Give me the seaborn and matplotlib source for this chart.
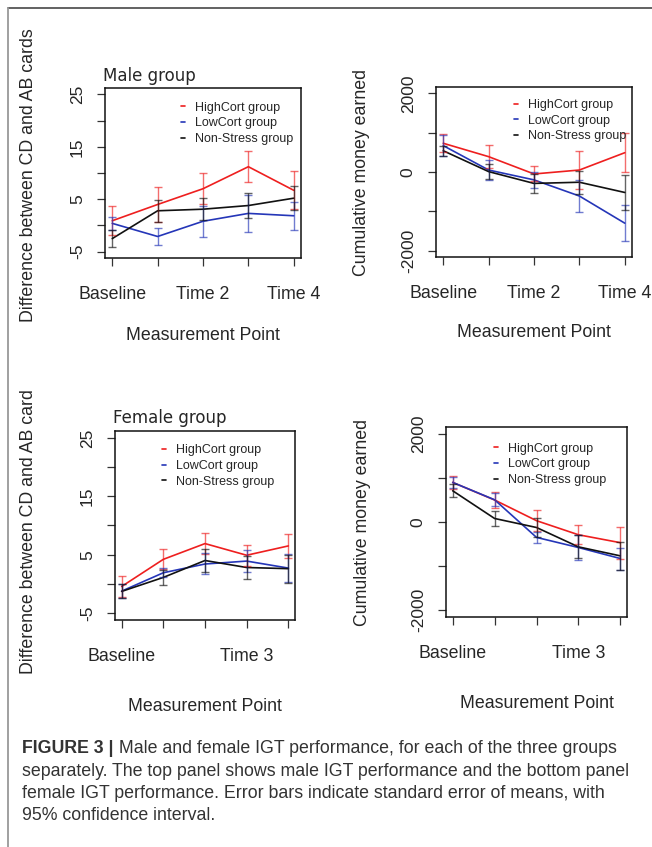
import numpy as np
import pandas as pd
import seaborn as sns
import matplotlib.pyplot as plt
from matplotlib.lines import Line2D

# measurement points (x) and group names
time_points = [1, 2, 3, 4, 5]
groups = ["HighCort group", "LowCort group", "Non-Stress group"]
group_colors = ["#ee1f1f", "#2536b8", "#111111"]

top_xticklabels = ["Baseline", "", "Time 2", "", "Time 4"]
bottom_xticklabels = ["Baseline", "", "", "Time 3", ""]

diff_yticks = [-5, 0, 5, 10, 15, 20, 25]
diff_yticklabels = ["-5", "", "5", "", "15", "", "25"]
money_yticks = [-2000, -1000, 0, 1000, 2000]
money_yticklabels = ["-2000", "", "0", "", "2000"]

# male, CD-AB difference
male_diff_high = [0.9, 4.0, 7.0, 11.2, 6.7]
male_diff_high_err = [2.8, 3.4, 3.0, 2.9, 3.6]
male_diff_low = [0.4, -2.1, 0.8, 2.3, 1.85]
male_diff_low_err = [1.3, 1.55, 3.0, 3.45, 2.65]
male_diff_ns = [-2.5, 2.8, 3.1, 3.8, 5.2]
male_diff_ns_err = [1.6, 2.1, 2.1, 2.4, 2.3]

# male, cumulative money
male_money_high = [730, 390, -50, 50, 490]
male_money_high_err = [230, 300, 190, 480, 490]
male_money_low = [670, 50, -200, -610, -1300]
male_money_low_err = [275, 255, 200, 410, 460]
male_money_ns = [540, 10, -290, -260, -520]
male_money_ns_err = [130, 200, 250, 290, 450]

# female, CD-AB difference
female_diff_high = [-0.45, 4.2, 6.9, 4.9, 6.5]
female_diff_high_err = [1.75, 1.7, 1.75, 1.8, 2.0]
female_diff_low = [-1.25, 1.9, 3.4, 3.9, 2.7]
female_diff_low_err = [1.2, 0.8, 1.8, 1.9, 2.4]
female_diff_ns = [-1.3, 1.1, 4.0, 2.8, 2.6]
female_diff_ns_err = [1.2, 1.3, 2.0, 2.0, 2.4]

# female, cumulative money
female_money_high = [900, 500, 30, -290, -470]
female_money_high_err = [140, 190, 245, 215, 360]
female_money_low = [900, 505, -350, -580, -830]
female_money_low_err = [120, 150, 125, 285, 250]
female_money_ns = [710, 80, -125, -565, -770]
female_money_ns_err = [145, 180, 210, 260, 310]

caption_bold = "FIGURE 3 |"
caption_lines = [
    " Male and female IGT performance, for each of the three groups",
    "separately. The top panel shows male IGT performance and the bottom panel",
    "female IGT performance. Error bars indicate standard error of means, with",
    "95% confidence interval.",
]

sns.set_theme(style="white")
plt.rcParams['font.family'] = ['Liberation Sans', 'DejaVu Sans']

W, H = 652, 847
fig = plt.figure(figsize=(W / 100, H / 100), dpi=100)


def px_axes(x0, y0, x1, y1):
    return fig.add_axes([x0 / W, 1 - y1 / H, (x1 - x0) / W, (y1 - y0) / H])


def make_df(high, low, ns):
    rows = []
    for g, vals in zip(groups, [high, low, ns]):
        for t, v in zip(time_points, vals):
            rows.append({"time": t, "value": v, "group": g})
    return pd.DataFrame(rows)


def panel(ax, series, errs, ylim, yticks, yticklabels, xticklabels,
          ylabel, ylab_xy, xlab_y, leg_xy, title=None, title_xy=None):
    df = make_df(*series)
    sns.lineplot(data=df, x="time", y="value", hue="group", hue_order=groups,
                 palette=group_colors, linewidth=1.2, ax=ax)
    for vals, err, c in zip(series, errs, group_colors):
        ax.errorbar(time_points, vals, yerr=err, fmt="none", ecolor=c,
                    alpha=0.65, elinewidth=1.0, capsize=3.2, capthick=1.0)
    ax.set_xlim(0.84, 5.16)
    ax.set_ylim(*ylim)
    ax.set_xticks(time_points)
    ax.set_xticklabels(xticklabels, fontsize=12.8)
    ax.set_yticks(yticks)
    ax.set_yticklabels(yticklabels, fontsize=12.5)
    for lab in ax.get_yticklabels():
        lab.set_rotation(90)
        lab.set_va("center")
    ax.tick_params(axis="x", bottom=True, length=6, width=0.9, color="#333333", pad=14)
    ax.tick_params(axis="y", left=True, length=6, width=0.9, color="#333333", pad=8.5)
    for sp in ax.spines.values():
        sp.set_color("#111111")
        sp.set_linewidth(1.1)
    ax.set_xlabel("Measurement Point", fontsize=12.8, va="center")
    ax.xaxis.set_label_coords(0.5, xlab_y)
    ax.set_ylabel(ylabel, fontsize=12.8, va="center")
    ax.yaxis.set_label_coords(*ylab_xy)
    sns.move_legend(ax, "upper left", bbox_to_anchor=leg_xy, frameon=False,
                    title=None, fontsize=9, handlelength=0.35, handletextpad=0.8,
                    labelspacing=0.3, borderaxespad=0, borderpad=0)
    if title:
        ax.text(title_xy[0], title_xy[1], title, transform=ax.transAxes,
                family="DejaVu Sans", fontsize=12, ha="left", va="baseline")


ax1 = px_axes(105, 88, 301, 258)
panel(ax1, [male_diff_high, male_diff_low, male_diff_ns],
      [male_diff_high_err, male_diff_low_err, male_diff_ns_err],
      (-6.2, 26.2), diff_yticks, diff_yticklabels, top_xticklabels,
      "Difference between CD and AB cards", (-0.388, 0.49), -0.453, (0.388, 0.92),
      "Male group", (-0.01, 1.041))

ax2 = px_axes(436, 87, 632, 257)
panel(ax2, [male_money_high, male_money_low, male_money_ns],
      [male_money_high_err, male_money_low_err, male_money_ns_err],
      (-2160, 2160), money_yticks, money_yticklabels, top_xticklabels,
      "Cumulative money earned", (-0.378, 0.5), -0.447, (0.398, 0.93))

ax3 = px_axes(115, 431, 295, 620)
panel(ax3, [female_diff_high, female_diff_low, female_diff_ns],
      [female_diff_high_err, female_diff_low_err, female_diff_ns_err],
      (-6.2, 26.2), diff_yticks, diff_yticklabels, bottom_xticklabels,
      "Difference between CD and AB card", (-0.478, 0.47), -0.46, (0.261, 0.93),
      "Female group", (-0.011, 1.041))

ax4 = px_axes(446, 427, 627, 617)
panel(ax4, [female_money_high, female_money_low, female_money_ns],
      [female_money_high_err, female_money_low_err, female_money_ns_err],
      (-2160, 2160), money_yticks, money_yticklabels, bottom_xticklabels,
      "Cumulative money earned", (-0.464, 0.5), -0.453, (0.265, 0.918))

# outer frame (top and left edges)
fig.add_artist(Line2D([8 / W, 1], [1 - 8 / H, 1 - 8 / H], color="#555555", lw=1.3))
fig.add_artist(Line2D([8 / W, 8 / W], [0, 1 - 8 / H], color="#999999", lw=1.3))

# caption
cap_color = "#333333"
cap_size = 12.8
line_y = [748, 771, 793, 815]
bold = fig.text(22 / W, 1 - line_y[0] / H, caption_bold, fontsize=cap_size,
                weight="bold", color=cap_color, va="center")
fig.canvas.draw()
bb = bold.get_window_extent(renderer=fig.canvas.get_renderer())
fig.text(bb.x1 / W, 1 - line_y[0] / H, caption_lines[0], fontsize=cap_size,
         color=cap_color, va="center")
for txt, y in zip(caption_lines[1:], line_y[1:]):
    fig.text(22 / W, 1 - y / H, txt, fontsize=cap_size, color=cap_color, va="center")

fig.savefig("out.png", dpi=100)
